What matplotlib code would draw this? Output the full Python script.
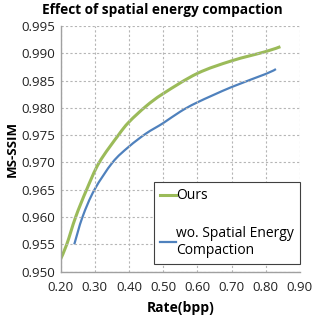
import matplotlib
matplotlib.use('Agg')
import matplotlib.pyplot as plt
from matplotlib.path import Path
from matplotlib.patches import PathPatch
from matplotlib.lines import Line2D
import numpy as np

plt.rcParams['font.family'] = ['Open Sans', 'DejaVu Sans']

# data
ours_rate = [0.200, 0.218, 0.244, 0.276, 0.313, 0.369, 0.400, 0.450, 0.500, 0.600, 0.700, 0.800, 0.843]
ours_ssim = [0.9523, 0.955, 0.960, 0.965, 0.970, 0.975, 0.9774, 0.9803, 0.9826, 0.9863, 0.9886, 0.9903, 0.9912]
wo_rate = [0.240, 0.264, 0.299, 0.352, 0.400, 0.450, 0.500, 0.550, 0.600, 0.700, 0.800, 0.830]
wo_ssim = [0.955, 0.960, 0.965, 0.970, 0.9729, 0.9753, 0.9772, 0.9793, 0.9810, 0.9838, 0.9862, 0.9871]

xticks = np.arange(0.20, 0.901, 0.10)
yticks = np.arange(0.950, 0.9951, 0.005)


def smooth_path(xs, ys):
    # excel-like smoothed line: catmull-rom segments as cubic beziers
    p = np.column_stack([xs, ys])
    verts = [p[0]]
    codes = [Path.MOVETO]
    n = len(p)
    for i in range(n - 1):
        p0 = p[i - 1] if i > 0 else p[i]
        p3 = p[i + 2] if i + 2 < n else p[i + 1]
        c1 = p[i] + (p[i + 1] - p0) / 6
        c2 = p[i + 1] - (p3 - p[i]) / 6
        verts += [c1, c2, p[i + 1]]
        codes += [Path.CURVE4] * 3
    return Path(verts, codes)


fig = plt.figure(figsize=(3.14, 3.20), dpi=100)
ax = fig.add_axes([0.193, 0.151, 0.762, 0.768])

ax.add_patch(PathPatch(smooth_path(ours_rate, ours_ssim), fc='none', ec='#9BBB59', lw=2.2))
ax.add_patch(PathPatch(smooth_path(wo_rate, wo_ssim), fc='none', ec='#4F81BD', lw=1.6))

ax.set_xlim(0.20, 0.90)
ax.set_ylim(0.950, 0.995)
ax.set_xticks(xticks)
ax.set_xticklabels([f'{v:.2f}' for v in xticks])
ax.set_yticks(yticks)
ax.set_yticklabels([f'{v:.3f}' for v in yticks])
ax.tick_params(length=0, labelsize=9.5, colors='#222222')
ax.tick_params(axis='x', pad=7)
ax.tick_params(axis='y', pad=4)

ax.grid(True, color='#b5b5b5', linestyle=(0, (2, 2)), lw=0.8)
for s in ['top', 'right']:
    ax.spines[s].set_visible(False)
for s in ['left', 'bottom']:
    ax.spines[s].set_color('#a0a0a0')
    ax.spines[s].set_linewidth(1.0)

fig.text(162 / 314, 1 - 10 / 320, 'Effect of spatial energy compaction', fontsize=9.8,
         fontweight='bold', ha='center', va='center')
ax.set_xlabel('Rate(bpp)', fontsize=10, fontweight='bold', labelpad=5)
ax.set_ylabel('MS-SSIM', fontsize=9.5, fontweight='bold', labelpad=2)

handles = [Line2D([], [], color='#9BBB59', lw=2.2), Line2D([], [], color='#4F81BD', lw=1.6)]
labels = ['Ours', 'wo. Spatial Energy\nCompaction']
leg = ax.legend(handles, labels, loc='lower right', bbox_to_anchor=(1.0, 0.031), fontsize=10,
                handlelength=1.1, handletextpad=0.0, labelspacing=1.6,
                borderpad=0.45, borderaxespad=0, fancybox=False, framealpha=1)
leg.get_frame().set_edgecolor('#404040')
leg.get_frame().set_linewidth(0.8)

fig.savefig('out.png', dpi=100)
